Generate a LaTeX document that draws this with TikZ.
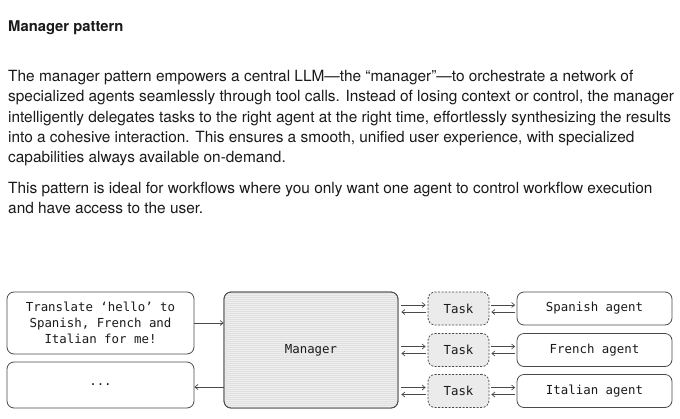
\documentclass[tikz,border=0pt]{standalone}
\usepackage{fontspec}
\setmainfont{TeX Gyre Heros}
\newfontfamily\monof{DejaVu Sans Mono}
\usetikzlibrary{arrows.meta,calc}
\definecolor{txt}{HTML}{1A1A1A}
\definecolor{edge}{HTML}{4A4A4A}
\definecolor{fillg}{HTML}{EBEBEB}
\definecolor{manfill}{HTML}{EEEEEE}
\definecolor{stripe}{HTML}{E0E0E0}
\begin{document}
\begin{tikzpicture}[x=1pt,y=-1pt,
  body/.style={anchor=base west,inner sep=0pt,text=txt,font=\fontsize{15.4}{18}\selectfont},
  box/.style={draw=edge,line width=0.8pt,rounded corners=7pt,inner sep=0pt,align=center,text=txt,font=\monof\fontsize{12.4}{16}\selectfont},
  taskbox/.style={box,dashed,dash pattern=on 2pt off 1.5pt,fill=fillg},
  arr/.style={draw=edge,line width=0.7pt,-{Straight Barb[length=3pt,width=5pt]}}]
\useasboundingbox (0,0) rectangle (680,418);
\fill[white] (0,0) rectangle (680,418);
\node[body,font=\bfseries\fontsize{14.8}{16}\selectfont] (title) at (8,31) {Manager pattern};
\node[body] (l1) at (8,81) {The manager pattern empowers a central LLM—the “manager”—to orchestrate a network of};
\node[body] (l2) at (8,101.5) {specialized agents seamlessly through tool calls. Instead of losing context or control, the manager};
\node[body] (l3) at (8,122) {intelligently delegates tasks to the right agent at the right time, effortlessly synthesizing the results};
\node[body] (l4) at (8,142) {into a cohesive interaction. This ensures a smooth, unified user experience, with specialized};
\node[body] (l5) at (8,162) {capabilities always available on-demand.};
\node[body] (p1) at (8,193) {This pattern is ideal for workflows where you only want one agent to control workflow execution};
\node[body] (p2) at (8,213) {and have access to the user.};
% boxes
\node[box,minimum width=187pt,minimum height=62pt] (req) at (100.5,323) {Translate ‘hello’ to\\Spanish, French and\\Italian for me!};
\node[box,minimum width=187pt,minimum height=46pt] (out) at (100.5,385) {...};
\node[box,fill=manfill,minimum width=174pt,minimum height=116pt] (man) at (311,350) {};
\begin{scope}
\clip[rounded corners=7pt] (224.4,292.4) rectangle (397.6,407.6);
\foreach \yy in {293,295,...,407} \draw[stripe,line width=0.5pt] (224,\yy) -- (398,\yy);
\end{scope}
\node[box,minimum width=174pt,minimum height=116pt] (man2) at (311,350) {Manager};
\foreach \i/\yy/\name in {1/308.5/Spanish agent,2/350/French agent,3/391/Italian agent}{
  \node[taskbox,minimum width=61pt,minimum height=33pt] (t\i) at (458.5,\yy) {Task};
  \node[box,minimum width=155pt,minimum height=33pt] (a\i) at (594.5,\yy) {\name};
  \draw[arr] ([yshift=3.5pt]man.east|-t\i.west) ++(3,0) -- ([yshift=3.5pt,xshift=-2pt]t\i.west);
  \draw[arr] ([yshift=-3.5pt,xshift=-2pt]t\i.west) -- ([yshift=-3.5pt,xshift=3pt]man.east|-t\i.west);
  \draw[arr] ([yshift=3.5pt,xshift=2pt]t\i.east) -- ([yshift=3.5pt,xshift=-1.5pt]a\i.west);
  \draw[arr] ([yshift=-3.5pt,xshift=-1.5pt]a\i.west) -- ([yshift=-3.5pt,xshift=2pt]t\i.east);
}
\draw[arr] (req.east) -- (man.west|-req.east);
\draw[arr] (man.west|-0,387) -- (out.east|-0,387);
\end{tikzpicture}
\end{document}
